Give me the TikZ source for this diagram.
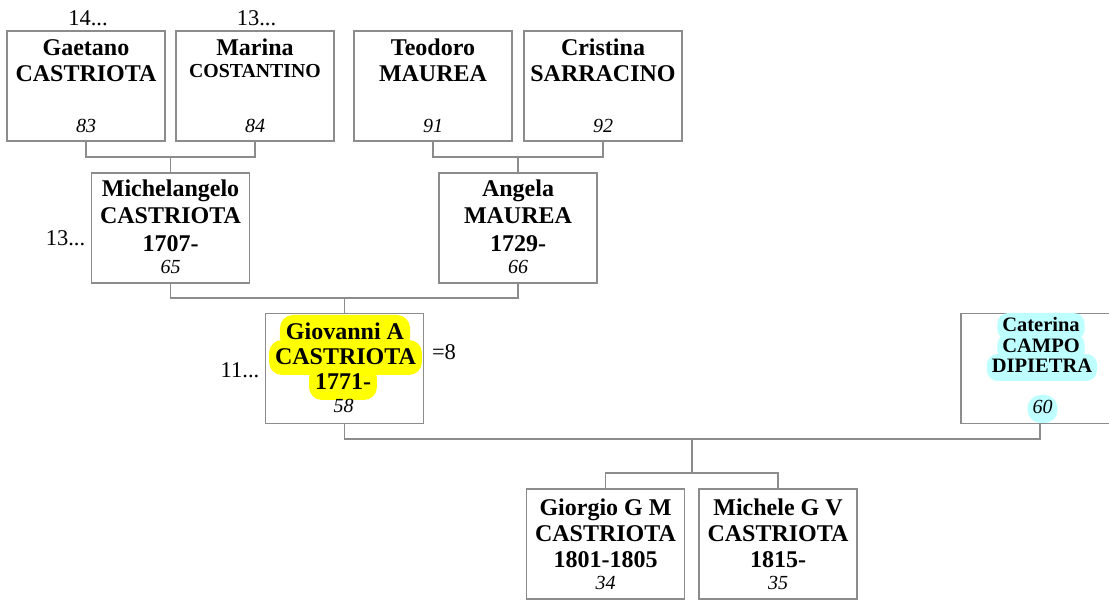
\documentclass[tikz,border=0pt]{standalone}
\usepackage{fontspec}
\setmainfont{Liberation Serif}
\definecolor{linegray}{RGB}{140,140,140}
\definecolor{hlyellow}{RGB}{255,255,0}
\definecolor{hlcyan}{RGB}{190,255,255}
\begin{document}
\begin{tikzpicture}[x=1pt,y=-1pt,
  person/.style={draw=linegray,line width=1.2pt,minimum width=158pt,minimum height=110pt,inner sep=0pt},
  link/.style={draw=linegray,line width=1.2pt},
  nm/.style={anchor=base,inner sep=0pt,font=\bfseries\fontsize{24}{25}\selectfont},
  nmsmall/.style={anchor=base,inner sep=0pt,font=\bfseries\fontsize{19.8}{21}\selectfont},
  nmcat/.style={anchor=base,inner xsep=5pt,inner ysep=3pt,text height=16pt,text depth=5pt,fill=hlcyan,rounded corners=11pt,font=\bfseries\fontsize{20.5}{21}\selectfont},
  num/.style={anchor=base,inner sep=0pt,font=\itshape\fontsize{20}{21}\selectfont},
  numcat/.style={anchor=base,inner xsep=5pt,inner ysep=4pt,text height=15pt,text depth=5pt,fill=hlcyan,rounded corners=13pt,font=\itshape\fontsize{20}{21}\selectfont},
  hly/.style={anchor=base,inner xsep=6pt,inner ysep=4pt,text height=21pt,text depth=6pt,fill=hlyellow,rounded corners=13pt,font=\bfseries\fontsize{24}{25}\selectfont},
  side/.style={anchor=base,inner sep=0pt,font=\fontsize{22.5}{24}\selectfont}]
\useasboundingbox (0,0) rectangle (1109,601);
\fill[white] (0,0) rectangle (1109,601);

% boxes
\node[person] (ga) at (86,86) {};
\node[person] (ma) at (255,86) {};
\node[person] (te) at (433,86) {};
\node[person] (cr) at (603,86) {};
\node[person] (mi) at (170.5,228) {};
\node[person] (an) at (518,228) {};
\node[person] (gi) at (344.5,368.5) {};
\node[person] (ca) at (1040,368.5) {};
\node[person] (gg) at (605.5,544) {};
\node[person] (mg) at (778,544) {};

% texts
\node[nm] (ga1) at (86,56) {Gaetano};
\node[nm] (ga2) at (86,82) {CASTRIOTA};
\node[num] (ga3) at (86,133) {83};
\node[nm] (ma1) at (255,56) {Marina};
\node[nmsmall] (ma2) at (255,78) {COSTANTINO};
\node[num] (ma3) at (255,133) {84};
\node[nm] (te1) at (433,56) {Teodoro};
\node[nm] (te2) at (433,82) {MAUREA};
\node[num] (te3) at (433,133) {91};
\node[nm] (cr1) at (603,56) {Cristina};
\node[nm] (cr2) at (603,82) {SARRACINO};
\node[num] (cr3) at (603,133) {92};

\node[nm] (mi1) at (170.5,197) {Michelangelo};
\node[nm] (mi2) at (170.5,224) {CASTRIOTA};
\node[nm] (mi3) at (170.5,251.5) {1707-};
\node[num] (mi4) at (170.5,273.5) {65};
\node[nm] (an1) at (518,197) {Angela};
\node[nm] (an2) at (518,224) {MAUREA};
\node[nm] (an3) at (518,251.5) {1729-};
\node[num] (an4) at (518,273.5) {66};

\node[hly] (gi1) at (345,340) {Giovanni A};
\node[hly] (gi2) at (345.5,365) {CASTRIOTA};
\node[hly] (gi3) at (343,390) {1771-};
\node[num] (gi4) at (343.5,413) {58};

\node[nmcat] (ca1) at (1041,332) {Caterina};
\node[nmcat] (ca2) at (1041,353) {CAMPO};
\node[nmcat] (ca3) at (1042,373) {DIPIETRA};
\node[numcat] (ca4) at (1042.5,414) {60};

\node[nm] (gg1) at (605.5,515) {Giorgio G M};
\node[nm] (gg2) at (605.5,541) {CASTRIOTA};
\node[nm] (gg3) at (605.5,567) {1801-1805};
\node[num] (gg4) at (605.5,589) {34};
\node[nm] (mg1) at (778,515) {Michele G V};
\node[nm] (mg2) at (778,541) {CASTRIOTA};
\node[nm] (mg3) at (778,567) {1815-};
\node[num] (mg4) at (778,589) {35};

% side labels
\node[side] (l1) at (88,26) {14...};
\node[side] (l2) at (256.5,26) {13...};
\node[side] (l3) at (65.5,246) {13...};
\node[side] (l4) at (240,378) {11...};
\node[side] (l5) at (444,360) {=8};

% connectors
\coordinate (j1) at (170.5,157);
\coordinate (j2) at (518,157);
\coordinate (j3) at (344.5,298);
\coordinate (j4) at (692,439);
\coordinate (j5) at (692,473);
\draw[link] (ga.south) |- (j1) -| (ma.south);
\draw[link] (j1) -- (mi.north);
\draw[link] (te.south) |- (j2) -| (cr.south);
\draw[link] (j2) -- (an.north);
\draw[link] (mi.south) |- (j3) -| (an.south);
\draw[link] (j3) -- (gi.north);
\draw[link] (gi.south) |- (j4) -| (ca.south);
\draw[link] (j4) -- (j5);
\draw[link] (gg.north) |- (j5) -| (mg.north);
\end{tikzpicture}
\end{document}
